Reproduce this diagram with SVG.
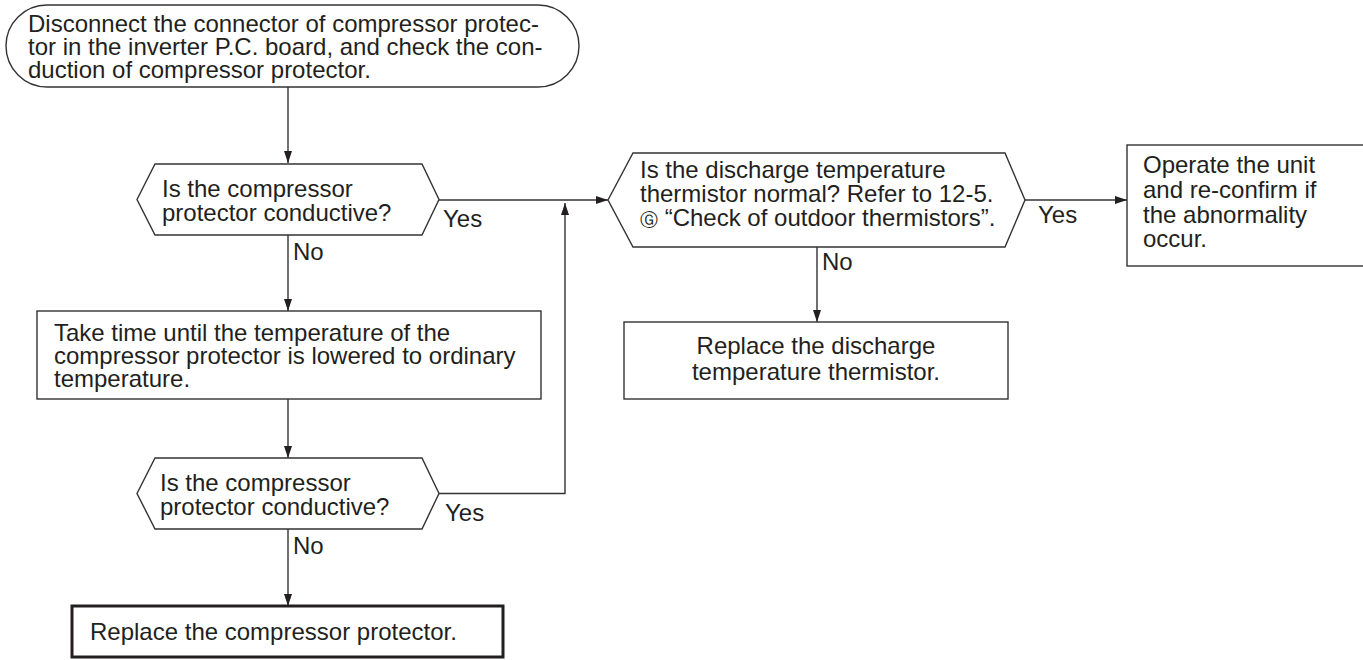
<svg xmlns="http://www.w3.org/2000/svg" width="1363" height="660" viewBox="0 0 1363 660">
<defs>
<style>
.t{font-family:"Liberation Sans",Arial,"DejaVu Sans",sans-serif;font-size:24px;fill:#231f20}
.s{fill:#fff;stroke:#333;stroke-width:1.4}
.c{fill:none;stroke:#333;stroke-width:1.4}
</style>
<marker id="ah" viewBox="0 0 12 8" refX="12" refY="4" markerWidth="12" markerHeight="8" markerUnits="userSpaceOnUse" orient="auto">
<path d="M0,0 L12,4 L0,8 Z" fill="#231f20"/>
</marker>
</defs>
<rect width="1363" height="660" fill="#fff"/>
<g id="connectors">
<path class="c" d="M288,87 V163" marker-end="url(#ah)"/>
<path class="c" d="M288,235 V311" marker-end="url(#ah)"/>
<path class="c" d="M288,399 V458" marker-end="url(#ah)"/>
<path class="c" d="M288,529 V606" marker-end="url(#ah)"/>
<path class="c" d="M439,493.5 H565 V203" marker-end="url(#ah)"/>
<path class="c" d="M439,200 H608" marker-end="url(#ah)"/>
<path class="c" d="M1025,200 H1127" marker-end="url(#ah)"/>
<path class="c" d="M817,247 V322" marker-end="url(#ah)"/>
<text class="t" x="443" y="227">Yes</text>
<text class="t" x="293" y="260">No</text>
<text class="t" x="445" y="521">Yes</text>
<text class="t" x="293" y="554">No</text>
<text class="t" x="1038" y="223">Yes</text>
<text class="t" x="822" y="270">No</text>
</g>
<g id="start">
<rect class="s" x="6" y="5" width="573" height="82" rx="41" ry="41"/>
<text class="t" x="28" y="32">Disconnect the connector of compressor protec-</text>
<text class="t" x="28" y="55">tor in the inverter P.C. board, and check the con-</text>
<text class="t" x="28" y="78">duction of compressor protector.</text>
</g>
<g id="q1">
<polygon class="s" points="137,199.5 155,164 422,164 439,199.5 422,235 155,235"/>
<text class="t" x="162" y="197">Is the compressor</text>
<text class="t" x="162" y="221">protector conductive?</text>
</g>
<g id="wait">
<rect class="s" x="37" y="311" width="504" height="88"/>
<text class="t" x="54" y="341">Take time until the temperature of the</text>
<text class="t" x="54" y="364">compressor protector is lowered to ordinary</text>
<text class="t" x="54" y="387">temperature.</text>
</g>
<g id="q2">
<polygon class="s" points="137,493.5 155,458 422,458 439,493.5 422,529 155,529"/>
<text class="t" x="160" y="491">Is the compressor</text>
<text class="t" x="160" y="515">protector conductive?</text>
</g>
<g id="replace-protector">
<rect x="72" y="606" width="431" height="51" fill="#fff" stroke="#231f20" stroke-width="3"/>
<text class="t" x="90" y="640">Replace the compressor protector.</text>
</g>
<g id="q3">
<polygon class="s" points="608,200 633,153 1005,153 1025,200 1005,247 633,247"/>
<text class="t" x="640" y="178">Is the discharge temperature</text>
<text class="t" x="640" y="202">thermistor normal? Refer to 12-5.</text>
<text class="t" x="640" y="226"><tspan font-size="18">Ⓖ</tspan> “Check of outdoor thermistors”.</text>
</g>
<g id="operate">
<rect class="s" x="1127" y="145" width="250" height="121"/>
<text class="t" x="1143" y="173">Operate the unit</text>
<text class="t" x="1143" y="198">and re-confirm if</text>
<text class="t" x="1143" y="223">the abnormality</text>
<text class="t" x="1143" y="247">occur.</text>
</g>
<g id="replace-thermistor">
<rect class="s" x="624" y="322" width="384" height="77"/>
<text class="t" x="816" y="354" text-anchor="middle">Replace the discharge</text>
<text class="t" x="816" y="380" text-anchor="middle">temperature thermistor.</text>
</g>
</svg>
